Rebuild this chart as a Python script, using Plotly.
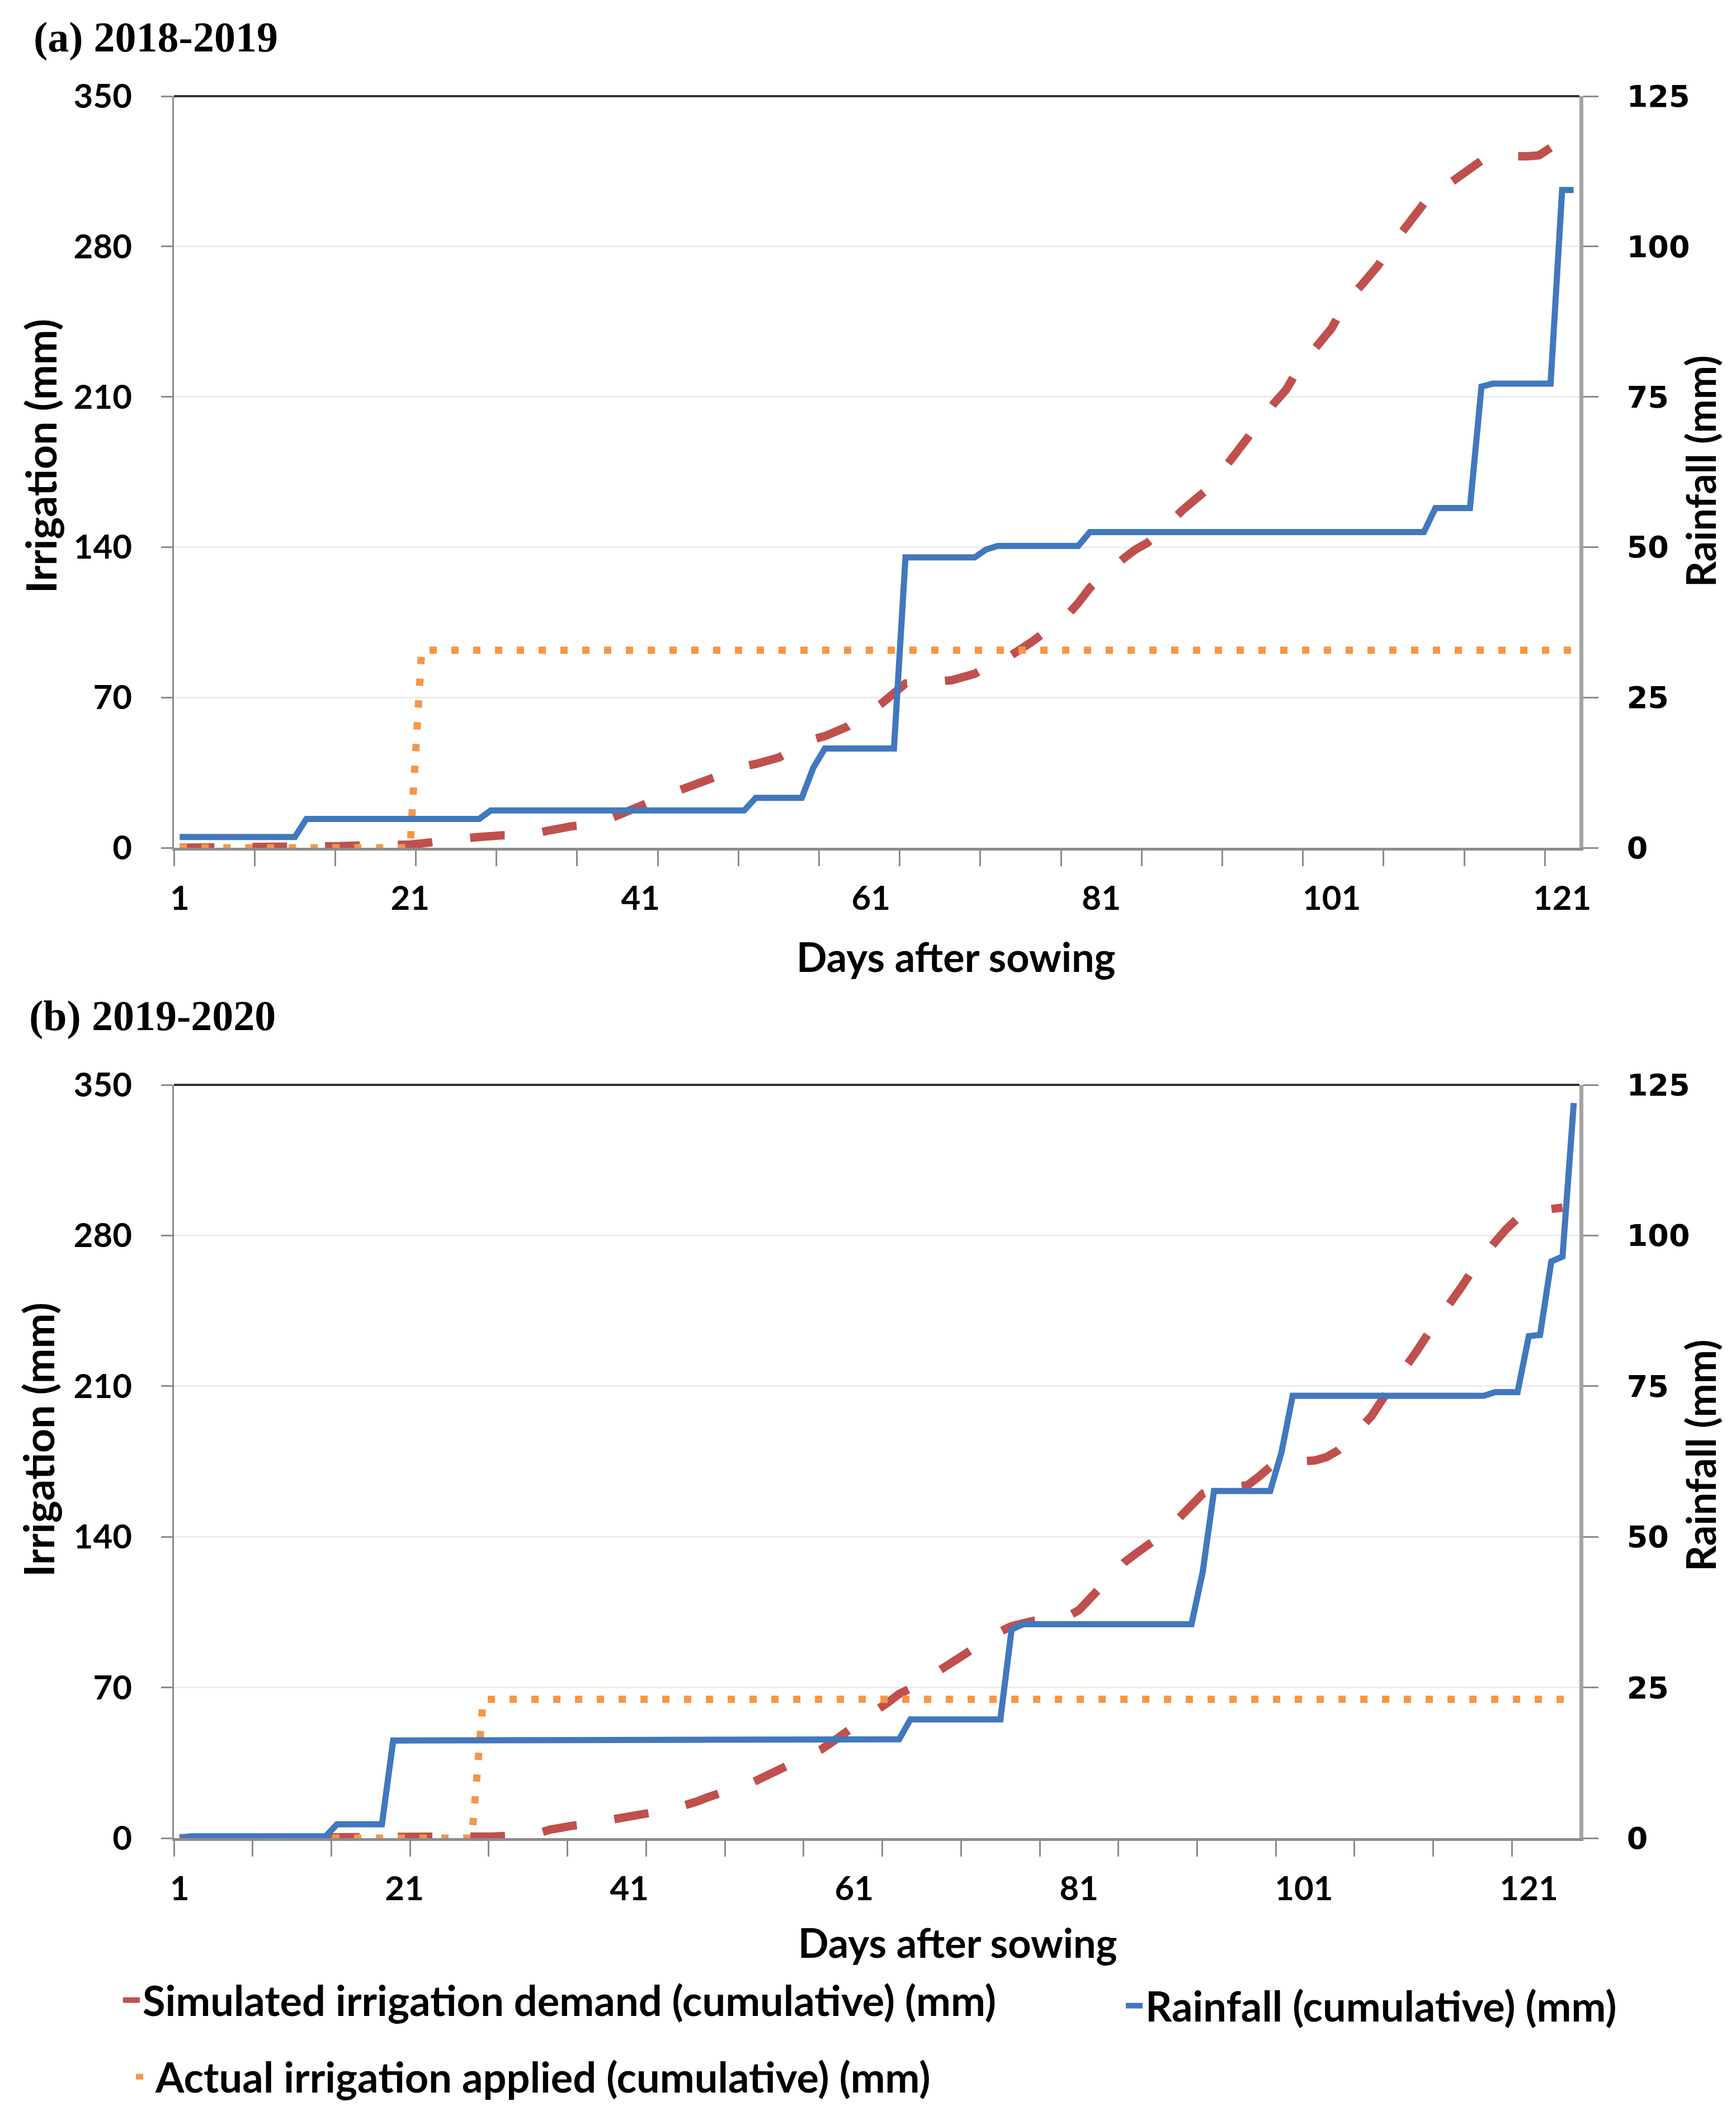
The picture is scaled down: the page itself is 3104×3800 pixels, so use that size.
import plotly.graph_objects as go

# ---------------- data ----------------
days_a = list(range(1, 123))
days_b = list(range(1, 126))

# (a) 2018-2019
sim_a = [0, 0, 0, 0, 0, 0, 0, 0, 0, 0,
         0.3, 0.5, 0.5, 0.5, 0.8, 1.0, 1.0, 1.0, 1.0, 1.0,
         1.5, 2.0, 2.8, 3.5, 4.0, 4.5, 5.0, 5.8, 5.8, 5.8,
         6.0, 6.8, 8.0, 9.5, 10.0, 10.5, 11.5, 13.0, 15.0, 17.5,
         20.0, 22.0, 24.0, 26.0, 28.0, 30.0, 32.0, 34.0, 36.5, 38.0,
         39.0, 40.5, 42.0, 45.0, 48.0, 50.5, 52.0, 54.0, 56.5, 60.0,
         63.5, 67.5, 72.0, 76.5, 76.8, 77.0, 77.0, 78.0, 79.5, 81.0,
         84.0, 87.5, 89.0, 92.0, 96.0, 100.0, 104.0, 108.0, 114.0, 121.0,
         126.0, 131.0, 135.0, 139.0, 142.0, 146.5, 152.0, 157.0, 161.5, 166.0,
         172.0, 179.0, 186.0, 194.0, 200.0, 207.0, 213.0, 222.0, 229.0, 235.0,
         242.0, 252.0, 258.0, 264.0, 271.0, 279.0, 286.0, 292.0, 300.0, 307.0,
         308.5, 312.0, 316.0, 320.0, 321.5, 322.0, 322.0, 322.0, 322.5, 326.0,
         330.0, 332.0]

rain_a = [1.8, 1.8, 1.8, 1.8, 1.8, 1.8, 1.8, 1.8, 1.8, 1.8,
          1.8, 4.8, 4.8, 4.8, 4.8, 4.8, 4.8, 4.8, 4.8, 4.8,
          4.8, 4.8, 4.8, 4.8, 4.8, 4.8, 4.8, 6.2, 6.2, 6.2,
          6.2, 6.2, 6.2, 6.2, 6.2, 6.2, 6.2, 6.2, 6.2, 6.2,
          6.2, 6.2, 6.2, 6.2, 6.2, 6.2, 6.2, 6.2, 6.2, 6.2,
          8.3, 8.3, 8.3, 8.3, 8.3, 13.3, 16.5, 16.5, 16.5, 16.5,
          16.5, 16.5, 16.5, 48.3, 48.3, 48.3, 48.3, 48.3, 48.3, 48.3,
          49.6, 50.2, 50.2, 50.2, 50.2, 50.2, 50.2, 50.2, 50.2, 52.5,
          52.5, 52.5, 52.5, 52.5, 52.5, 52.5, 52.5, 52.5, 52.5, 52.5,
          52.5, 52.5, 52.5, 52.5, 52.5, 52.5, 52.5, 52.5, 52.5, 52.5,
          52.5, 52.5, 52.5, 52.5, 52.5, 52.5, 52.5, 52.5, 52.5, 56.5,
          56.5, 56.5, 56.5, 76.7, 77.2, 77.2, 77.2, 77.2, 77.2, 77.2,
          109.4, 109.4]

act_a = [0, 0, 0, 0, 0, 0, 0, 0, 0, 0,
         0, 0, 0, 0, 0, 0, 0, 0, 0, 0,
         0, 92, 92, 92, 92, 92, 92, 92, 92, 92,
         92, 92, 92, 92, 92, 92, 92, 92, 92, 92,
         92, 92, 92, 92, 92, 92, 92, 92, 92, 92,
         92, 92, 92, 92, 92, 92, 92, 92, 92, 92,
         92, 92, 92, 92, 92, 92, 92, 92, 92, 92,
         92, 92, 92, 92, 92, 92, 92, 92, 92, 92,
         92, 92, 92, 92, 92, 92, 92, 92, 92, 92,
         92, 92, 92, 92, 92, 92, 92, 92, 92, 92,
         92, 92, 92, 92, 92, 92, 92, 92, 92, 92,
         92, 92, 92, 92, 92, 92, 92, 92, 92, 92,
         92, 92]

# (b) 2019-2020
sim_b = [0, 0, 0, 0, 0, 0, 0, 0, 0, 0,
         0, 0, 0, 0, 0.3, 0.3, 0.3, 0.3, 0.3, 0.3,
         0.3, 0.5, 0.5, 0.5, 0.5, 0.5, 0.5, 0.5, 0.8, 1.0,
         1.2, 1.5, 2.5, 4.0, 5.2, 5.8, 6.4, 7.2, 8.0, 9.0,
         10.5, 11.2, 11.8, 12.8, 13.8, 15.0, 17.0, 19.0, 20.5, 22.0,
         24.0, 26.0, 28.5, 31.0, 33.0, 35.0, 38.0, 41.0, 44.5, 48.5,
         52.5, 56.5, 59.5, 63.0, 67.0, 69.5, 72.0, 76.0, 79.0, 82.5,
         86.0, 89.5, 93.0, 96.0, 98.5, 100.0, 101.0, 101.5, 102.0, 103.0,
         106.0, 111.0, 117.0, 122.5, 128.0, 132.0, 135.5, 139.5, 144.0, 149.0,
         155.0, 160.0, 162.0, 162.5, 163.0, 164.0, 168.0, 172.5, 174.5, 175.0,
         175.0, 175.5, 177.0, 180.0, 185.0, 190.0, 196.0, 204.0, 211.0, 219.0,
         226.0, 234.0, 241.0, 249.0, 256.0, 264.0, 271.0, 277.0, 283.0, 288.0,
         291.0, 291.5, 292.0, 293.0, None]

rain_b = [0, 0.3, 0.3, 0.3, 0.3, 0.3, 0.3, 0.3, 0.3, 0.3,
          0.3, 0.3, 0.3, 0.3, 2.3, 2.3, 2.3, 2.3, 2.3, 16.2,
          16.2, 16.2, 16.2, 16.2, 16.2, 16.2, 16.2, 16.2, 16.2, 16.2,
          16.2, 16.2, 16.2, 16.2, 16.2, 16.2, 16.2, 16.2, 16.2, 16.2,
          16.2, 16.2, 16.2, 16.2, 16.2, 16.2, 16.2, 16.2, 16.2, 16.2,
          16.2, 16.2, 16.2, 16.2, 16.2, 16.2, 16.2, 16.2, 16.2, 16.2,
          16.2, 16.2, 16.2, 16.2, 16.4, 19.7, 19.7, 19.7, 19.7, 19.7,
          19.7, 19.7, 19.7, 19.7, 34.6, 35.5, 35.5, 35.5, 35.5, 35.5,
          35.5, 35.5, 35.5, 35.5, 35.5, 35.5, 35.5, 35.5, 35.5, 35.5,
          35.5, 44.2, 57.6, 57.6, 57.6, 57.6, 57.6, 57.6, 64.0, 73.4,
          73.4, 73.4, 73.4, 73.4, 73.4, 73.4, 73.4, 73.4, 73.4, 73.4,
          73.4, 73.4, 73.4, 73.4, 73.4, 73.4, 73.4, 74.0, 74.0, 74.0,
          83.3, 83.5, 95.7, 96.5, 122.0]

act_b = [0, 0, 0, 0, 0, 0, 0, 0, 0, 0,
         0, 0, 0, 0, 0, 0, 0, 0, 0, 0,
         0, 0, 0, 0, 0, 0, 0, 64.5, 64.5, 64.5,
         64.5, 64.5, 64.5, 64.5, 64.5, 64.5, 64.5, 64.5, 64.5, 64.5,
         64.5, 64.5, 64.5, 64.5, 64.5, 64.5, 64.5, 64.5, 64.5, 64.5,
         64.5, 64.5, 64.5, 64.5, 64.5, 64.5, 64.5, 64.5, 64.5, 64.5,
         64.5, 64.5, 64.5, 64.5, 64.5, 64.5, 64.5, 64.5, 64.5, 64.5,
         64.5, 64.5, 64.5, 64.5, 64.5, 64.5, 64.5, 64.5, 64.5, 64.5,
         64.5, 64.5, 64.5, 64.5, 64.5, 64.5, 64.5, 64.5, 64.5, 64.5,
         64.5, 64.5, 64.5, 64.5, 64.5, 64.5, 64.5, 64.5, 64.5, 64.5,
         64.5, 64.5, 64.5, 64.5, 64.5, 64.5, 64.5, 64.5, 64.5, 64.5,
         64.5, 64.5, 64.5, 64.5, 64.5, 64.5, 64.5, 64.5, 64.5, 64.5,
         64.5, 64.5, 64.5, 64.5, 64.5]

x_tick_labels = [1, 21, 41, 61, 81, 101, 121]
irr_ticks = [0, 70, 140, 210, 280, 350]
rain_ticks = [0, 25, 50, 75, 100, 125]

panel_titles = ["(a) 2018-2019", "(b) 2019-2020"]
name_sim = "Simulated irrigation demand (cumulative) (mm)"
name_rain = "Rainfall (cumulative) (mm)"
name_act = "Actual irrigation applied (cumulative) (mm)"

# ---------------- style ----------------
W, H = 3104, 3800
OFF = 8  # default page margin of the html body
RED = "#C0504D"
BLUE = "#4178BE"
ORANGE = "#F79646"
AXGRAY = "#8C8C8C"


def px(x):
    return (x - OFF) / W


def py(y):
    return 1 - (y - OFF) / H


fig = go.Figure()

panels = [
    dict(days=days_a, sim=sim_a, rain=rain_a, act=act_a, xa="x", ya="y", yb="y2", show=True),
    dict(days=days_b, sim=sim_b, rain=rain_b, act=act_b, xa="x2", ya="y3", yb="y4", show=False),
]
for p in panels:
    fig.add_trace(go.Scatter(x=p["days"], y=p["sim"], mode="lines", name=name_sim,
                             line=dict(color=RED, width=15, dash="62px,68px"),
                             xaxis=p["xa"], yaxis=p["ya"], legend="legend",
                             legendgroup="sim", showlegend=p["show"], connectgaps=False))
    fig.add_trace(go.Scatter(x=p["days"], y=p["act"], mode="lines", name=name_act,
                             line=dict(color=ORANGE, width=13, dash="13px,26px"),
                             xaxis=p["xa"], yaxis=p["ya"], legend="legend3",
                             legendgroup="act", showlegend=p["show"]))
    fig.add_trace(go.Scatter(x=p["days"], y=p["rain"], mode="lines", name=name_rain,
                             line=dict(color=BLUE, width=11),
                             xaxis=p["xa"], yaxis=p["yb"], legend="legend2",
                             legendgroup="rain", showlegend=p["show"]))

tick_font_l = dict(family="Lato", size=60, color="black", weight="bold")
tick_font_r = dict(family="DejaVu Sans", size=54, color="black", weight="bold")


def tfont(size):
    return dict(family="Lato", size=size, color="black", weight="bold")


xdom = [px(311), px(2824)]
ydom_a = [py(1516), py(172)]
ydom_b = [py(3287), py(1940)]


def xaxis(n, anchor):
    return dict(domain=xdom, anchor=anchor, range=[0.5, n + 0.5],
                tickmode="array", tickvals=x_tick_labels,
                ticktext=[str(v) for v in x_tick_labels],
                ticks="outside", ticklen=28, tickcolor="rgba(0,0,0,0)",
                ticklabelstandoff=6,
                minor=dict(ticks="outside", ticklen=28, tickwidth=3, tickcolor=AXGRAY,
                           tick0=0.5, dtick=7, showgrid=False),
                showline=True, linecolor=AXGRAY, linewidth=5,
                showgrid=False, zeroline=False, tickfont=tick_font_l, fixedrange=True)


def yleft(dom, anchor):
    return dict(domain=dom, anchor=anchor, range=[0, 350], tickmode="array",
                tickvals=irr_ticks, ticks="outside", ticklen=20, tickwidth=3,
                tickcolor=AXGRAY, showline=True, linecolor=AXGRAY, linewidth=3,
                showgrid=True, gridcolor="#EDEDED", gridwidth=3, zeroline=False,
                tickfont=tick_font_l, ticklabelstandoff=40)


def yright(over, anchor):
    return dict(overlaying=over, anchor=anchor, side="right", range=[0, 125],
                tickmode="array", tickvals=rain_ticks, ticks="outside", ticklen=27,
                tickwidth=3, tickcolor=AXGRAY, showline=True, linecolor="#A3A3A3",
                linewidth=7, showgrid=False, zeroline=False, tickfont=tick_font_r,
                ticklabelstandoff=40)


annotations = [
    dict(text=panel_titles[0], x=px(58), y=py(66), xanchor="left", yanchor="middle",
         font=dict(family="Liberation Serif", size=76, color="black", weight="bold")),
    dict(text=panel_titles[1], x=px(50), y=py(1816), xanchor="left", yanchor="middle",
         font=dict(family="Liberation Serif", size=76, color="black", weight="bold")),
    dict(text="Irrigation (mm)", x=px(72), y=py(816), textangle=-90, font=tfont(75)),
    dict(text="Irrigation (mm)", x=px(68), y=py(2575), textangle=-90, font=tfont(75)),
    dict(text="Rainfall (mm)", x=px(3040), y=py(843), textangle=-90, font=tfont(72)),
    dict(text="Rainfall (mm)", x=px(3040), y=py(2603), textangle=-90, font=tfont(72)),
    dict(text="Days after sowing", x=px(1709), y=py(1710), font=tfont(72)),
    dict(text="Days after sowing", x=px(1712), y=py(3473), font=tfont(72)),
]
for a in annotations:
    a.update(xref="paper", yref="paper", showarrow=False)
    a.setdefault("xanchor", "center")
    a.setdefault("yanchor", "middle")

shapes = [
    dict(type="line", xref="x domain", yref="y domain", x0=0, x1=1, y0=1, y1=1,
         line=dict(color="#333333", width=4)),
    dict(type="line", xref="x2 domain", yref="y3 domain", x0=0, x1=1, y0=1, y1=1,
         line=dict(color="#333333", width=4)),
]

leg_common = dict(orientation="h", xanchor="left", yanchor="middle",
                  bgcolor="rgba(0,0,0,0)", borderwidth=0, font=tfont(74))

fig.update_layout(
    width=W, height=H,
    margin=dict(l=0, r=0, t=0, b=0, autoexpand=False),
    paper_bgcolor="white", plot_bgcolor="white",
    xaxis=xaxis(122, "y"), yaxis=yleft(ydom_a, "x"), yaxis2=yright("y", "x"),
    xaxis2=xaxis(125, "y3"), yaxis3=yleft(ydom_b, "x2"), yaxis4=yright("y3", "x2"),
    annotations=annotations, shapes=shapes,
    legend=dict(leg_common, x=px(215), y=py(3577)),
    legend2=dict(leg_common, x=px(2008), y=py(3587)),
    legend3=dict(leg_common, x=px(238), y=py(3714)),
)

fig.write_html("out.html")
